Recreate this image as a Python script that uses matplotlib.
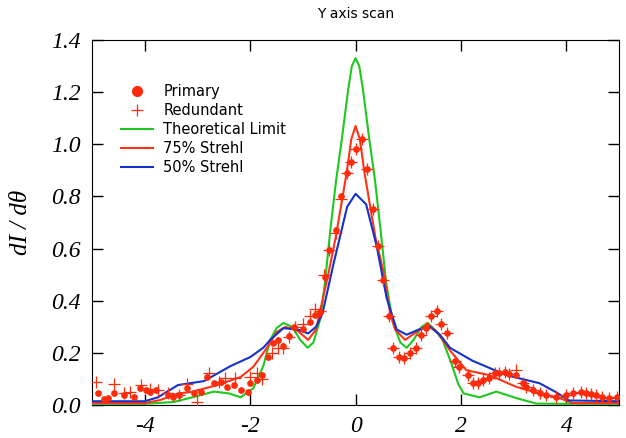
import matplotlib
matplotlib.use("Agg")
import matplotlib.pyplot as plt
from matplotlib.lines import Line2D

# theoretical limit (green)
green_x = [-5, -4.0, -3.45, -3.0, -2.69, -2.4, -2.18, -1.94, -1.75, -1.62, -1.5, -1.37, -1.2, -1.05,
           -0.91, -0.8, -0.67, -0.58, -0.48, -0.37, -0.26, -0.14, -0.07, 0, 0.07, 0.14, 0.26, 0.37,
           0.48, 0.58, 0.71, 0.85, 0.97, 1.1, 1.25, 1.37, 1.5, 1.65, 1.8, 1.95, 2.05, 2.35, 2.67,
           3.05, 3.43, 4.0, 5.0]
green_y = [0.005, 0.005, 0.012, 0.035, 0.052, 0.045, 0.03, 0.065, 0.15, 0.25, 0.295, 0.315, 0.30, 0.25,
           0.22, 0.24, 0.33, 0.47, 0.67, 0.86, 1.02, 1.21, 1.30, 1.33, 1.30, 1.21, 1.02, 0.86,
           0.66, 0.47, 0.315, 0.24, 0.22, 0.25, 0.30, 0.315, 0.29, 0.25, 0.17, 0.08, 0.045, 0.03, 0.052,
           0.027, 0.006, 0.005, 0.005]

# 75% strehl (red)
red_x = [-5, -4.0, -3.7, -3.37, -3.13, -2.62, -2.18, -1.94, -1.68, -1.5, -1.33, -1.1, -0.9, -0.75,
         -0.52, -0.38, -0.27, -0.17, -0.08, 0, 0.08, 0.17, 0.27, 0.38, 0.52, 0.65, 0.75, 0.94,
         1.15, 1.37, 1.55, 1.79, 2.1, 2.54, 3.05, 3.49, 3.87, 4.12, 5]
red_y = [0.008, 0.008, 0.02, 0.045, 0.05, 0.077, 0.108, 0.147, 0.22, 0.28, 0.30, 0.285, 0.25, 0.29,
         0.50, 0.64, 0.77, 0.89, 1.02, 1.07, 1.02, 0.89, 0.77, 0.64, 0.52, 0.36, 0.29, 0.25,
         0.28, 0.31, 0.28, 0.21, 0.134, 0.115, 0.07, 0.045, 0.027, 0.008, 0.008]

# 50% strehl (blue)
blue_x = [-5, -4.0, -3.75, -3.37, -2.88, -2.37, -2.0, -1.75, -1.62, -1.37, -1.1, -0.9, -0.75, -0.63,
          -0.42, -0.16, 0, 0.2, 0.4, 0.59, 0.78, 0.97, 1.2, 1.41, 1.6, 1.79, 2.22, 2.86, 3.49, 3.8,
          4.05, 5]
blue_y = [0.015, 0.015, 0.03, 0.077, 0.092, 0.15, 0.184, 0.22, 0.25, 0.295, 0.29, 0.275, 0.30, 0.35,
          0.54, 0.76, 0.81, 0.77, 0.61, 0.41, 0.29, 0.27, 0.29, 0.30, 0.27, 0.22, 0.17, 0.115, 0.084, 0.05,
          0.018, 0.015]

# right-hand side points (shared by both channels)
right_x = [0.43, 0.52, 0.63, 0.71, 0.82, 0.92, 1.03, 1.14, 1.24, 1.33, 1.43, 1.54, 1.63, 1.73, 1.88,
           1.97, 2.13, 2.22, 2.32, 2.41, 2.54, 2.64, 2.73, 2.83, 2.92, 3.05, 3.17, 3.24, 3.36, 3.49,
           3.62, 3.8, 3.99, 4.12, 4.28, 4.38, 4.47, 4.56, 4.68, 4.81, 4.96]
right_y = [0.61, 0.48, 0.34, 0.22, 0.185, 0.18, 0.20, 0.22, 0.27, 0.295, 0.34, 0.36, 0.31, 0.275, 0.17,
           0.147, 0.115, 0.084, 0.084, 0.096, 0.104, 0.123, 0.123, 0.127, 0.12, 0.115, 0.084, 0.069, 0.058, 0.046,
           0.038, 0.031, 0.038, 0.046, 0.05, 0.046, 0.042, 0.038, 0.031, 0.027, 0.031]

primary_x = [-4.88, -4.77, -4.7, -4.58, -4.39, -4.2, -4.09, -3.98, -3.9, -3.79, -3.56, -3.47, -3.35,
             -3.19, -3.07, -2.94, -2.81, -2.69, -2.56, -2.43, -2.31, -2.18, -2.05, -2.0, -1.87, -1.77,
             -1.67, -1.56, -1.48, -1.37, -1.27, -1.16, -0.99, -0.86, -0.77, -0.67, -0.58, -0.5, -0.37,
             -0.27, -0.16, -0.08, 0.01, 0.12, 0.22, 0.33] + right_x
primary_y = [0.046, 0.023, 0.027, 0.046, 0.038, 0.031, 0.065, 0.058, 0.05, 0.058, 0.038, 0.031, 0.038,
             0.065, 0.046, 0.05, 0.108, 0.084, 0.088, 0.069, 0.077, 0.058, 0.05, 0.084, 0.096, 0.115,
             0.184, 0.24, 0.25, 0.225, 0.265, 0.30, 0.29, 0.32, 0.345, 0.357, 0.49, 0.595, 0.67,
             0.80, 0.89, 0.93, 0.98, 1.02, 0.905, 0.75] + right_y

redundant_x = [-4.92, -4.58, -4.39, -4.28, -4.07, -3.9, -3.75, -3.56, -3.35, -3.19, -3.0, -2.79, -2.6,
               -2.47, -2.28, -2.0, -1.87, -1.77, -1.58, -1.48, -1.37, -1.27, -1.14, -1.0, -0.86, -0.77,
               -0.67, -0.6, -0.5, -0.37, -0.27, -0.16, -0.08, 0.01, 0.12, 0.22, 0.33] + right_x
redundant_y = [0.088, 0.08, 0.046, 0.05, 0.077, 0.06, 0.058, 0.046, 0.04, 0.08, 0.012, 0.123, 0.09,
               0.104, 0.104, 0.108, 0.123, 0.10, 0.20, 0.22, 0.22, 0.26, 0.30, 0.31, 0.34, 0.37,
               0.36, 0.50, 0.595, 0.66, 0.79, 0.89, 0.93, 0.98, 1.02, 0.905, 0.75] + right_y[:25] + \
              [0.134] + right_y[26:]

xticks = [-4, -2, 0, 2, 4]
yticks = [0.0, 0.2, 0.4, 0.6, 0.8, 1.0, 1.2, 1.4]

pt_color = "#ff2a0a"
green = "#1ec81e"
red = "#ff3218"
blue = "#1432c8"

fig = plt.figure(figsize=(6.26, 4.38), dpi=100)
ax = fig.add_axes([0.147, 0.075, 0.842, 0.834])

ax.plot(green_x, green_y, color=green, lw=1.5, zorder=3)
ax.plot(red_x, red_y, color=red, lw=1.5, zorder=3)
ax.plot(blue_x, blue_y, color=blue, lw=1.5, zorder=3)

ax.errorbar(primary_x, primary_y, yerr=0.01, xerr=0.025, fmt="o", ms=3.8, color=pt_color,
            elinewidth=0.8, capsize=0, zorder=4)
ax.plot(redundant_x, redundant_y, "+", ms=8, mew=0.9, color=pt_color, zorder=4)

ax.set_xlim(-5, 5)
ax.set_ylim(0, 1.4)
tick_font = dict(family="Liberation Serif", style="italic", size=17)
ax.set_xticks(xticks)
ax.set_xticklabels([str(t) for t in xticks], fontdict=tick_font)
ax.set_yticks(yticks)
ax.set_yticklabels([f"{t:.1f}" for t in yticks], fontdict=tick_font)
ax.tick_params(direction="in", length=8, width=1, top=True, right=True, pad=8)

ax.set_ylabel("dI / dθ", family="Liberation Serif", style="italic", fontsize=18, labelpad=14)
ax.set_title("Y axis scan", fontsize=10, pad=16)

handles = [
    Line2D([], [], ls="none", marker="o", ms=7, color=pt_color),
    Line2D([], [], ls="none", marker="+", ms=8, mew=0.9, color=pt_color),
    Line2D([], [], color=green, lw=1.5),
    Line2D([], [], color=red, lw=1.5),
    Line2D([], [], color=blue, lw=1.5),
]
labels = ["Primary", "Redundant", "Theoretical Limit", "75% Strehl", "50% Strehl"]
ax.legend(handles, labels, loc="upper left", bbox_to_anchor=(0.03, 0.915), frameon=False,
          fontsize=10.5, labelspacing=0.28, handlelength=2.2, handletextpad=0.7)

fig.savefig("out.png", dpi=100)
